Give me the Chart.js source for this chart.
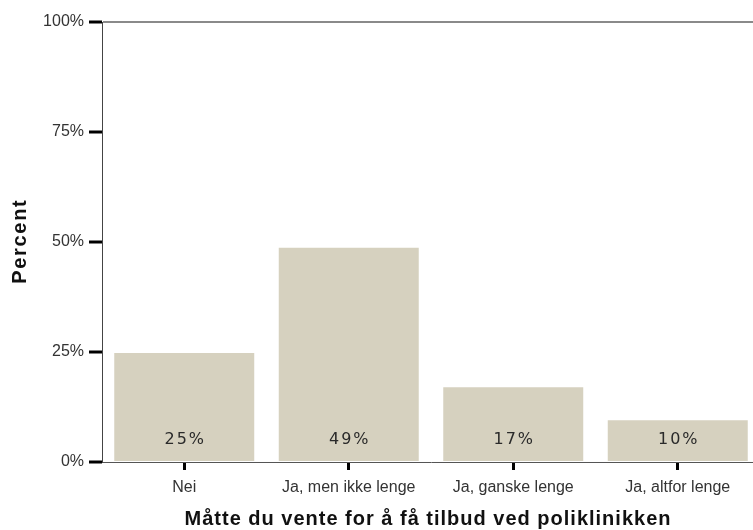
<!DOCTYPE html>
<html><head><meta charset="utf-8">
<script src="https://cdn.jsdelivr.net/npm/chart.js@4/dist/chart.umd.min.js"></script>
<style>html,body{margin:0;padding:0;background:#fff;overflow:hidden}#w{width:753px;height:530px;overflow:hidden}</style>
</head><body><div id="w"><canvas id="c" width="760" height="530"></canvas></div>
<script>
const categories = ["Nei", "Ja, men ikke lenge", "Ja, ganske lenge", "Ja, altfor lenge"];
const percentValues = [24.8, 48.7, 17.0, 9.5];
const valueLabels = ["25%", "49%", "17%", "10%"];
const yTicks = [0, 25, 50, 75, 100];
const xTitle = "Måtte du vente for å få tilbud ved poliklinikken";
const yTitle = "Percent";

const labelPlugin = {
  id: 'valLabels',
  afterDatasetsDraw(chart) {
    const ctx = chart.ctx;
    const meta = chart.getDatasetMeta(0);
    ctx.save();
    ctx.font = '16px "DejaVu Sans", Verdana, sans-serif';
    ctx.letterSpacing = '2px';
    ctx.fillStyle = '#2a2a2a';
    ctx.textAlign = 'center';
    ctx.textBaseline = 'middle';
    meta.data.forEach((bar, i) => {
      ctx.fillText(valueLabels[i], bar.x + 1, bar.base - 21);
    });
    ctx.restore();
  },
  afterDraw(chart) {
    const ctx = chart.ctx;
    const a = chart.chartArea;
    ctx.save();
    ctx.fillStyle = '#111';
    ctx.font = 'bold 20px "Liberation Sans", Arial, sans-serif';
    ctx.textAlign = 'center';
    ctx.textBaseline = 'middle';
    ctx.letterSpacing = '1px';
    ctx.fillText(xTitle, (a.left + 753) / 2 + 0.5, 519);
    ctx.letterSpacing = '1.7px';
    ctx.translate(20, (a.top + a.bottom) / 2);
    ctx.rotate(-Math.PI / 2);
    ctx.fillText(yTitle, 0.8, 0);
    ctx.restore();
  }
};

new Chart(document.getElementById('c'), {
  type: 'bar',
  data: {
    labels: categories,
    datasets: [{
      data: percentValues,
      backgroundColor: '#d6d1bf',
      borderWidth: 0,
      categoryPercentage: 1,
      barPercentage: 0.851
    }]
  },
  options: {
    responsive: false,
    animation: false,
    layout: { padding: { top: 22, right: 0, left: 0, bottom: 0 } },
    plugins: { legend: { display: false }, tooltip: { enabled: false } },
    scales: {
      x: {
        afterFit(s) { s.height = 68; },
        grid: { offset: false, drawOnChartArea: false, tickLength: 8, tickWidth: 3, tickColor: '#000' },
        border: { color: '#555', width: 1 },
        ticks: { color: '#333', font: { family: '"Liberation Sans", Arial', size: 16 }, padding: 8 },
        title: { display: false }
      },
      y: {
        min: 0, max: 100,
        afterFit(s) { s.width = 102; },
        afterBuildTicks(s) { s.ticks = yTicks.map(v => ({ value: v })); },
        grid: { drawOnChartArea: true, color: c => (c.tick && c.tick.value === 100) ? '#8a8a8a' : 'rgba(0,0,0,0)', lineWidth: 2, tickLength: 13, tickWidth: 3, tickColor: '#000' },
        border: { color: '#444', width: 1 },
        ticks: { color: '#333', font: { family: '"Liberation Sans", Arial', size: 16 }, padding: 5, callback: v => v + '%' },
        title: { display: false }
      }
    }
  },
  plugins: [labelPlugin]
});
</script></body></html>
